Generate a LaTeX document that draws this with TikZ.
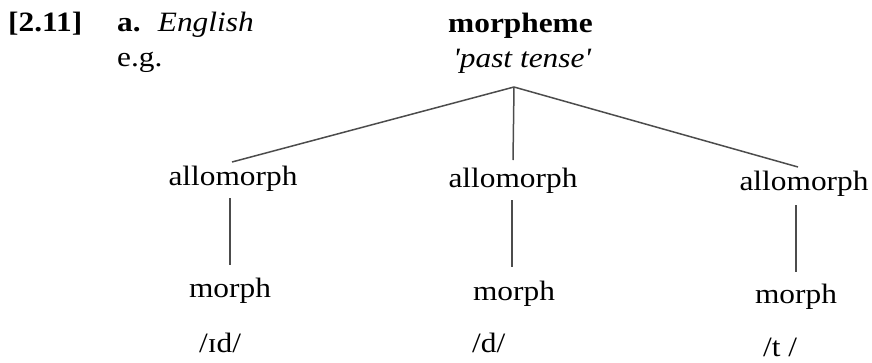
\documentclass[tikz,border=0pt]{standalone}
\usepackage{graphicx}
\usepackage{fontspec}
\setmainfont{Liberation Serif}
\newcommand{\widetxt}[1]{\scalebox{1.12}[1]{#1}}
\begin{document}
\begin{tikzpicture}[x=1pt,y=-1pt,
  lbl/.style={inner sep=0pt,anchor=base,font=\fontsize{28}{30}\selectfont},
  hdr/.style={inner sep=0pt,anchor=base west,font=\fontsize{28}{30}\selectfont},
  edge/.style={draw=black!70,line width=1.5pt}]
\useasboundingbox (0,0) rectangle (872,362);
\node[hdr] (num) at (8,31) {\widetxt{\textbf{[2.11]}}};
\node[hdr] (lang) at (117,31) {\widetxt{\textbf{a.}\hspace{6pt} \textit{English}}};
\node[hdr] (eg) at (117,66) {\widetxt{e.g.}};
\node[hdr] (mph) at (448,32) {\widetxt{\textbf{morpheme}}};
\node[hdr] (gloss) at (453,67) {\widetxt{\textit{\textquotesingle past tense\textquotesingle}}};
\node[lbl] (a1) at (233,185) {\widetxt{allomorph}};
\node[lbl] (a2) at (513,187) {\widetxt{allomorph}};
\node[lbl] (a3) at (804,190) {\widetxt{allomorph}};
\node[lbl] (m1) at (230,297) {\widetxt{morph}};
\node[lbl] (m2) at (514,300) {\widetxt{morph}};
\node[lbl] (m3) at (796,303) {\widetxt{morph}};
\node[hdr] (p1) at (199,352) {\widetxt{/ɪd/}};
\node[hdr] (p2) at (472,352) {\widetxt{/d/}};
\node[hdr] (p3) at (763,356) {\widetxt{/t /}};
\coordinate (root) at (514,87);
\coordinate (a1t) at (232,162);
\coordinate (a2t) at (513,160);
\coordinate (a3t) at (798,167);
\coordinate (a1b) at (230,198);
\coordinate (m1t) at (230,265);
\coordinate (a2b) at (512,200);
\coordinate (m2t) at (512,267);
\coordinate (a3b) at (796,205);
\coordinate (m3t) at (796,272);
\draw[edge] (root) -- (a1t);
\draw[edge] (root) -- (a2t);
\draw[edge] (root) -- (a3t);
\draw[edge] (a1b) -- (m1t);
\draw[edge] (a2b) -- (m2t);
\draw[edge] (a3b) -- (m3t);
\end{tikzpicture}
\end{document}
